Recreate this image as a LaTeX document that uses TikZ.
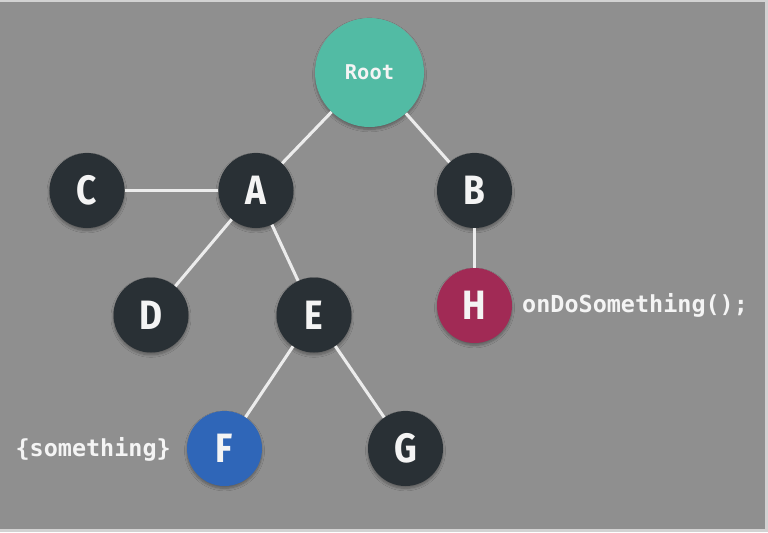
\documentclass[tikz,border=0pt]{standalone}
\usepackage{fontspec}
\setmainfont{Fira Sans}
\newfontfamily\letterfont{Fira Sans}[FakeStretch=0.86]
\newfontfamily\codefont{DejaVu Sans Mono}
\usetikzlibrary{shadows.blur}
\definecolor{bggray}{HTML}{8F8F8F}
\definecolor{framegray}{HTML}{D2D2D2}
\definecolor{nodedark}{HTML}{293035}
\definecolor{rootteal}{HTML}{52BBA4}
\definecolor{hmaroon}{HTML}{A12A55}
\definecolor{fblue}{HTML}{2F66B8}
\definecolor{edgewhite}{HTML}{ECECEC}
\definecolor{textwhite}{HTML}{F4F4F4}
\begin{document}
    \begin{tikzpicture}[x=0.03cm, y=-0.03cm,
        treenode/.style={circle, fill=nodedark, minimum size=2.25cm, inner sep=0pt,
            text=textwhite, font=\fontsize{35}{35}\selectfont\letterfont\bfseries,
            blur shadow={shadow xshift=0pt, shadow yshift=-2pt, shadow blur steps=8, shadow opacity=35}},
        edge/.style={draw=edgewhite, line width=2.6pt},
        codelabel/.style={text=textwhite, font=\fontsize{20}{20}\selectfont\codefont\bfseries, inner sep=0pt}]
        \useasboundingbox (0,0) rectangle (768,532);
        \fill[framegray] (0,0) rectangle (768,532);
        \fill[bggray] (0,2) rectangle (765,529);

        \node[treenode, fill=rootteal, minimum size=3.27cm, font=\fontsize{17.4}{17.4}\selectfont\codefont\bfseries] (root) at (369.5,72.5) {Root};
        \node[treenode] (a) at (256,190.5) {A};
        \node[treenode] (b) at (474.5,190.5) {B};
        \node[treenode] (c) at (87,190.5) {C};
        \node[treenode] (d) at (151,315) {D};
        \node[treenode] (e) at (314,315) {E};
        \node[treenode, fill=hmaroon] (h) at (474.5,305.5) {H};
        \node[treenode, fill=fblue] (f) at (224.5,448.5) {F};
        \node[treenode] (g) at (405.5,448.5) {G};

        \node[codelabel, anchor=west] (hcall) at (522,305.5) {onDoSomething();};
        \node[codelabel, anchor=east] (fdata) at (171,449) {\{something\}};

        \draw[edge] (root) -- (a);
        \draw[edge] (root) -- (b);
        \draw[edge] (a) -- (c);
        \draw[edge] (a) -- (d);
        \draw[edge] (a) -- (e);
        \draw[edge] (b) -- (h);
        \draw[edge] (e) -- (f);
        \draw[edge] (e) -- (g);
    \end{tikzpicture}
\end{document}
